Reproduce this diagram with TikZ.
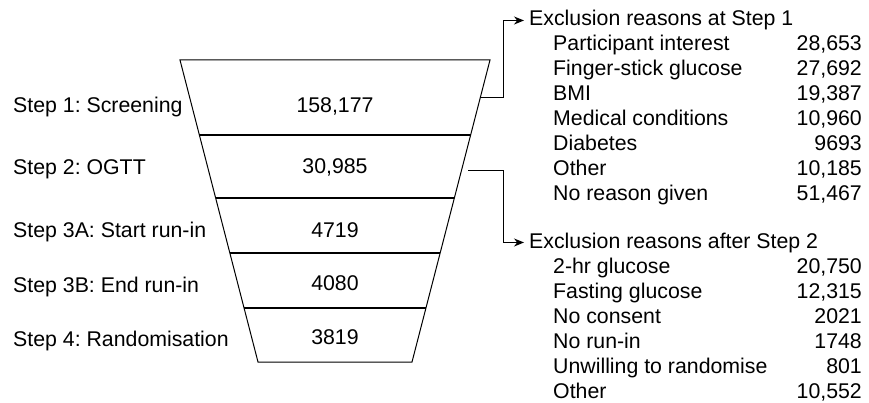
\documentclass[tikz,border=0pt]{standalone}
\usepackage{fontspec}
\setmainfont{Liberation Sans}
\usepackage{tikz}
\usetikzlibrary{arrows.meta,positioning,calc}
\frenchspacing
\tikzset{
    funnel/.style={draw=black, line width=1pt, line join=miter},
    divider/.style={draw=black, line width=2pt},
    steplabel/.style={anchor=base west, inner sep=0pt},
    count/.style={anchor=base, inner sep=0pt},
    heading/.style={anchor=base west, inner sep=0pt, inner xsep=5pt},
    reason/.style={anchor=base west, inner sep=0pt},
    amount/.style={anchor=base east, inner sep=0pt},
    arrow/.style={-{Stealth[length=10pt,width=8pt]}, line width=1pt}
}

\begin{document}
\begin{tikzpicture}[x=1pt,y=-1pt,font=\fontsize{21.3}{25}\selectfont]

\useasboundingbox (0,0) rectangle (869,403);

% ---- Funnel outline ----
\coordinate (tl) at (180,60);
\coordinate (tr) at (490,60);
\coordinate (bl) at (258,362);
\coordinate (br) at (412,362);
\draw[funnel] (tl) -- (tr) -- (br) -- (bl) -- cycle;

% ---- Dividers between the steps ----
\draw[divider] ($(tl)!0.248!(bl)$) -- ($(tr)!0.248!(br)$);
\draw[divider] ($(tl)!0.457!(bl)$) -- ($(tr)!0.457!(br)$);
\draw[divider] ($(tl)!0.639!(bl)$) -- ($(tr)!0.639!(br)$);
\draw[divider] ($(tl)!0.821!(bl)$) -- ($(tr)!0.821!(br)$);

% ---- Step labels (left) ----
\node[steplabel] (s1)  at (13,113) {Step 1: Screening};
\node[steplabel] (s2)  at (13,175) {Step 2: OGTT};
\node[steplabel] (s3a) at (13,237) {Step 3A: Start run-in};
\node[steplabel] (s3b) at (13,292) {Step 3B: End run-in};
\node[steplabel] (s4)  at (13,346) {Step 4: Randomisation};

% ---- Counts inside the funnel ----
\node[count] (n1)  at (335,113) {158,177};
\node[count] (n2)  at (335,174) {30,985};
\node[count] (n3a) at (335,237) {4719};
\node[count] (n3b) at (335,290) {4080};
\node[count] (n4)  at (335,344) {3819};

% ---- Exclusions at Step 1 ----
\node[heading] (h1) at (524,26) {Exclusion reasons at Step 1};
\node[reason] (r11) at (553,51)  {Participant interest};
\node[reason] (r12) at (553,76)  {Finger-stick glucose};
\node[reason] (r13) at (553,101) {BMI};
\node[reason] (r14) at (553,126) {Medical conditions};
\node[reason] (r15) at (553,151) {Diabetes};
\node[reason] (r16) at (553,176) {Other};
\node[reason] (r17) at (553,201) {No reason given};
\node[amount] (v11) at (862,51)  {28,653};
\node[amount] (v12) at (862,76)  {27,692};
\node[amount] (v13) at (862,101) {19,387};
\node[amount] (v14) at (862,126) {10,960};
\node[amount] (v15) at (862,151) {9693};
\node[amount] (v16) at (862,176) {10,185};
\node[amount] (v17) at (862,201) {51,467};

% ---- Exclusions after Step 2 ----
\node[heading] (h2) at (524,248) {Exclusion reasons after Step 2};
\node[reason] (r21) at (553,273) {2-hr glucose};
\node[reason] (r22) at (553,298) {Fasting glucose};
\node[reason] (r23) at (553,323) {No consent};
\node[reason] (r24) at (553,348) {No run-in};
\node[reason] (r25) at (553,373) {Unwilling to randomise};
\node[reason] (r26) at (553,398) {Other};
\node[amount] (v21) at (862,273) {20,750};
\node[amount] (v22) at (862,298) {12,315};
\node[amount] (v23) at (862,323) {2021};
\node[amount] (v24) at (862,348) {1748};
\node[amount] (v25) at (862,373) {801};
\node[amount] (v26) at (862,398) {10,552};

% Funnel -> exclusion lists
\coordinate (c1) at (480,98);
\coordinate (c2) at (468,171);
\draw[arrow] (c1) -| ([xshift=-21pt]h1.west) -- (h1.west);
\draw[arrow] (c2) -| ([xshift=-21pt]h2.west) -- (h2.west);

\end{tikzpicture}
\end{document}
